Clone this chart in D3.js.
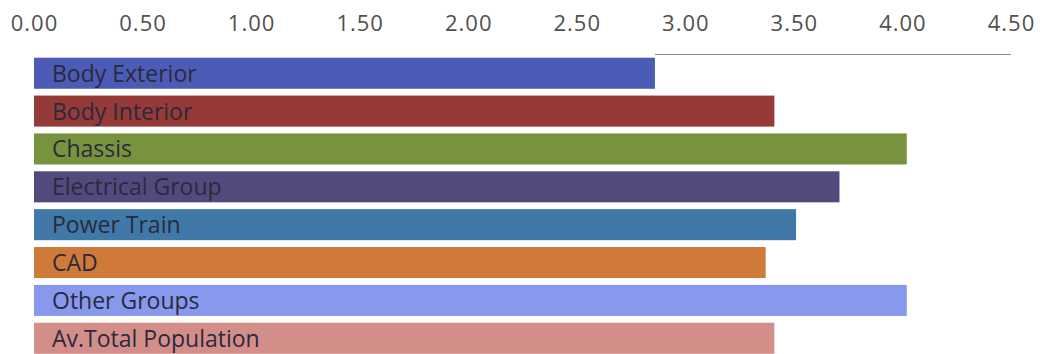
<!DOCTYPE html>
<html>
<head>
<meta charset="utf-8">
<script src="https://cdn.jsdelivr.net/npm/d3@7"></script>
<style>
  html, body { margin: 0; padding: 0; background: #fff; }
  svg { display: block; }
</style>
</head>
<body>
<svg id="chart" width="1045" height="354"></svg>
<script>
// Group scores
const categories = [
  "Body Exterior", "Body Interior", "Chassis", "Electrical Group",
  "Power Train", "CAD", "Other Groups", "Av.Total Population"
];
const values = [2.86, 3.41, 4.02, 3.71, 3.51, 3.37, 4.02, 3.41];
const colors = [
  "#4c5cb6", "#963a38", "#78933e", "#524a7c",
  "#4079a8", "#d07a3a", "#8898ec", "#d48e8a"
];
const tickValues = [0, 0.5, 1, 1.5, 2, 2.5, 3, 3.5, 4, 4.5];

const svg = d3.select("#chart");

const x = d3.scaleLinear().domain([0, 4.5]).range([34, 1011]);
const y = d3.scaleBand()
  .domain(categories)
  .range([54.3, 357.2])
  .paddingInner(0.18)
  .paddingOuter(0.09);

// Top axis: labels only, plus a thin baseline
const axis = d3.axisTop(x)
  .tickValues(tickValues)
  .tickFormat(d3.format(".2f"))
  .tickSize(0)
  .tickPadding(0);

const gAxis = svg.append("g")
  .attr("transform", "translate(0,31)")
  .call(axis);
gAxis.select(".domain").remove();
gAxis.selectAll("text")
  .attr("dy", 0)
  .attr("fill", "#505050")
  .style("font-family", "'Open Sans', sans-serif")
  .style("font-size", "22px")
  .style("letter-spacing", "1px");

// Baseline to the right of the first bar
svg.append("line")
  .attr("x1", x(values[0])).attr("x2", x(4.5))
  .attr("y1", 54.5).attr("y2", 54.5)
  .attr("stroke", "#8a8a8a")
  .attr("stroke-width", 1);

// Bars
svg.append("g").selectAll("rect")
  .data(categories)
  .join("rect")
  .attr("x", x(0))
  .attr("y", d => y(d))
  .attr("width", (d, i) => x(values[i]) - x(0))
  .attr("height", y.bandwidth())
  .attr("fill", (d, i) => colors[i]);

// Category names inside the bars
svg.append("g").selectAll("text")
  .data(categories)
  .join("text")
  .attr("x", x(0) + 18)
  .attr("y", d => y(d) + 24)
  .attr("fill", "#2a2a3c")
  .style("font-family", "'Open Sans', sans-serif")
  .style("font-size", "23px")
  .text(d => d);
</script>
</body>
</html>
